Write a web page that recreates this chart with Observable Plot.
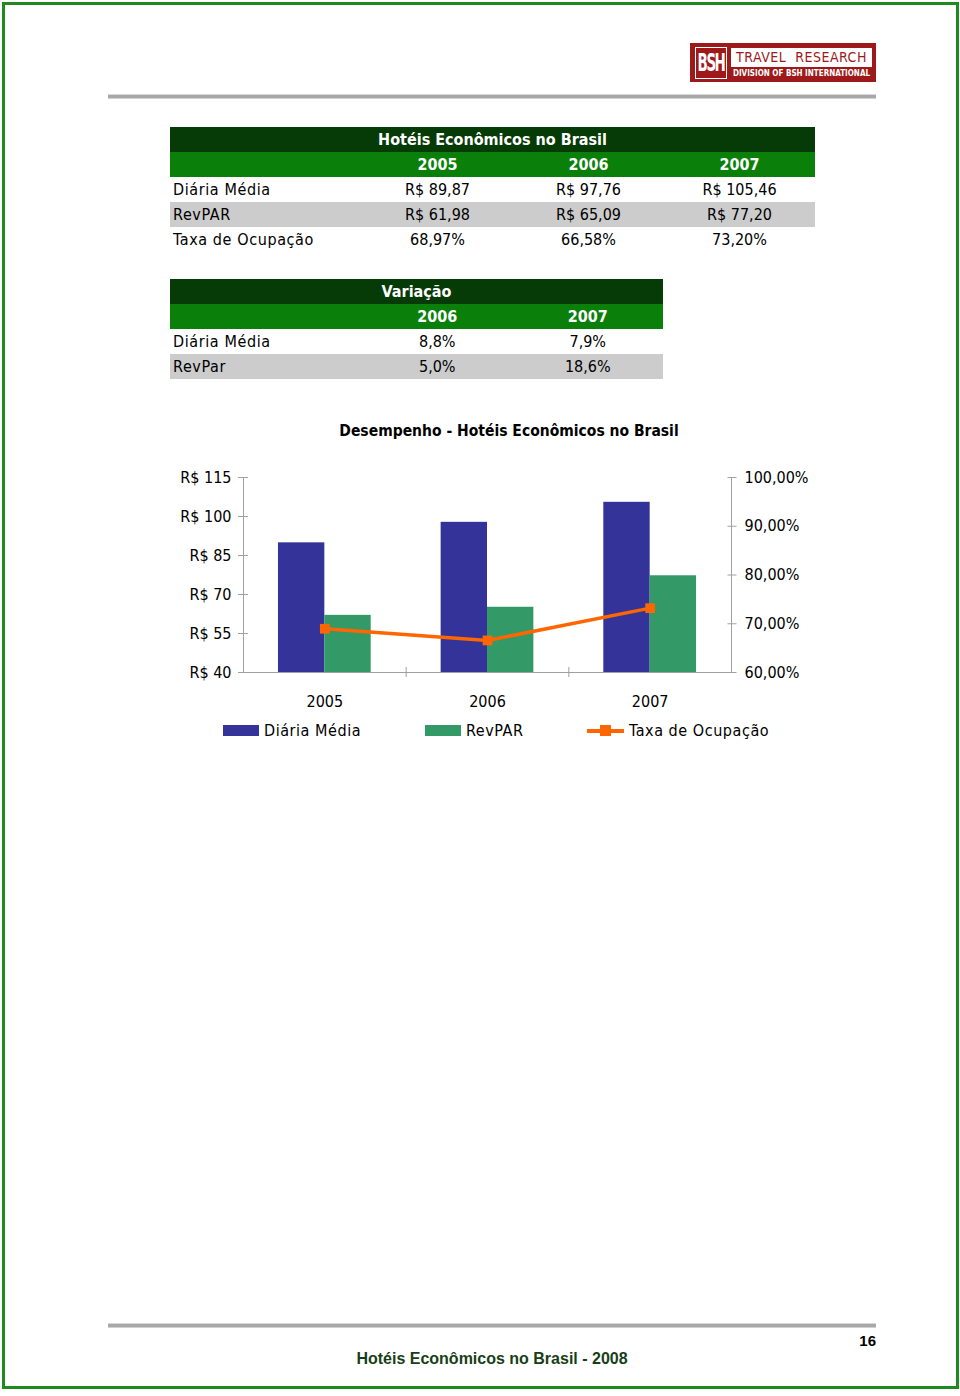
<!DOCTYPE html>
<html>
<head>
<meta charset="utf-8">
<script src="https://cdn.jsdelivr.net/npm/d3@7"></script>
<script src="https://cdn.jsdelivr.net/npm/@observablehq/plot@0.6"></script>
<style>
  html, body { margin: 0; padding: 0; background: #fff; }
  #page { position: relative; width: 960px; height: 1396px; overflow: hidden; font-family: "DejaVu Sans Condensed", "DejaVu Sans", sans-serif; color: #000; }
  .abs { position: absolute; }
  #frame { left: 2px; top: 2px; width: 951px; height: 1381px; border: 3px solid #1f8a1f; }
  .hline { height: 3px; background: #a8a8a8; box-shadow: 0 1px 0 #d0d0d0, 0 -1px 0 #d8d8d8; }
  table.t { position: absolute; border-collapse: collapse; font-size: 16px; }
  table.t td { height: 25px; padding: 0; line-height: 25px; white-space: nowrap; }
  table.t tr.h1 td { background: #063a06; color: #fff; font-weight: bold; text-align: center; }
  table.t tr.h2 td { background: #0a800a; color: #fff; font-weight: bold; text-align: center; }
  table.t tr.g td { background: #cccccc; }
  table.t td.lab { text-align: left; padding-left: 3px; letter-spacing: 0.6px; }
  table.t td.num { text-align: center; }
  #title { left: 0; width: 1018px; top: 422px; text-align: center; font-weight: bold; font-size: 15.5px; }
  #legend { top: 720px; left: 0; width: 960px; height: 22px; font-size: 16px; }
  .sw { position: absolute; top: 725px; height: 11px; }
  .lt { position: absolute; top: 719px; line-height: 22px; letter-spacing: 0.55px; }
  #footer { font-family: "Liberation Sans", Arial, sans-serif; font-weight: bold; }
</style>
</head>
<body>
<div id="page">
  <div id="frame" class="abs"></div>

  <!-- logo -->
  <div class="abs" style="left:690px;top:43px;width:186px;height:39px;background:#9e1a1a;"></div>
  <div class="abs" style="left:695px;top:47px;width:30px;height:30px;border:1px solid #fff;overflow:hidden;">
    <div style="color:#fff;font-family:'DejaVu Sans Condensed','DejaVu Sans',sans-serif;font-weight:bold;font-size:15px;line-height:30px;text-align:center;letter-spacing:-1.5px;transform:scaleY(1.6);">BSH</div>
  </div>
  <div class="abs" style="left:731px;top:48px;width:141px;height:19px;background:#fff;color:#9e1a1a;font-family:'DejaVu Sans Condensed','DejaVu Sans',sans-serif;font-size:14px;line-height:19px;text-align:center;letter-spacing:0.5px;">TRAVEL&nbsp; RESEARCH</div>
  <div class="abs" style="left:731px;top:68px;width:141px;height:12px;color:#fff;font-family:'DejaVu Sans Condensed','DejaVu Sans',sans-serif;font-weight:bold;font-size:8px;line-height:12px;text-align:center;">DIVISION OF BSH INTERNATIONAL</div>
  <div class="abs hline" style="left:108px;top:95px;width:768px;"></div>

  <div id="tables"></div>

  <div id="title" class="abs">Desempenho - Hotéis Econômicos no Brasil</div>
  <div id="chart" class="abs" style="left:160px;top:460px;"></div>
  <div id="legend" class="abs"></div>

  <div class="abs hline" style="left:108px;top:1324px;width:768px;"></div>
  <div id="footer">
    <div class="abs" style="left:820px;width:56px;top:1332px;text-align:right;font-size:15px;">16</div>
    <div class="abs" style="left:292px;width:400px;top:1350px;text-align:center;font-size:16px;color:#173f17;">Hotéis Econômicos no Brasil - 2008</div>
  </div>
</div>

<script>
// ---------- data ----------
const years = ["2005", "2006", "2007"];
const diariaMedia = [89.87, 97.76, 105.46];
const revPAR = [61.98, 65.09, 77.20];
const taxaOcupacao = [68.97, 66.58, 73.20];

const variacaoYears = ["2006", "2007"];
const variacaoDiaria = [8.8, 7.9];
const variacaoRevPar = [5.0, 18.6];

const leftTicks = [40, 55, 70, 85, 100, 115];
const rightTicks = [60, 70, 80, 90, 100];
const seriesNames = ["Diária Média", "RevPAR", "Taxa de Ocupação"];
const seriesColors = ["#333399", "#339966", "#FF6600"];

// ---------- helpers ----------
const br = (v, d) => v.toFixed(d).replace(".", ",");
const money = v => "R$ " + br(v, 2);
const pct = (v, d) => br(v, d) + "%";

// ---------- tables ----------
function buildTable(left, top, colW, title, cols, rows) {
  const t = document.createElement("table");
  t.className = "t";
  t.style.left = left + "px";
  t.style.top = top + "px";
  let html = `<colgroup><col style="width:192px">${cols.map(() => `<col style="width:${colW}px">`).join("")}</colgroup>`;
  html += `<tr class="h1"><td colspan="${cols.length + 1}">${title}</td></tr>`;
  html += `<tr class="h2"><td></td>${cols.map(c => `<td>${c}</td>`).join("")}</tr>`;
  rows.forEach((r, i) => {
    html += `<tr class="${i % 2 ? "g" : ""}"><td class="lab">${r.label}</td>${r.values.map(v => `<td class="num">${v}</td>`).join("")}</tr>`;
  });
  t.innerHTML = html;
  document.getElementById("tables").appendChild(t);
}

buildTable(170, 127, 151, "Hotéis Econômicos no Brasil", years, [
  {label: "Diária Média", values: diariaMedia.map(money)},
  {label: "RevPAR", values: revPAR.map(money)},
  {label: "Taxa de Ocupação", values: taxaOcupacao.map(v => pct(v, 2))}
]);
buildTable(170, 279, 150.5, "Variação", variacaoYears, [
  {label: "Diária Média", values: variacaoDiaria.map(v => pct(v, 1))},
  {label: "RevPar", values: variacaoRevPar.map(v => pct(v, 1))}
]);

// ---------- chart ----------
const yMin = leftTicks[0], yMax = leftTicks[leftTicks.length - 1];
const pMin = rightTicks[0], pMax = rightTicks[rightTicks.length - 1];
const toLeft = p => yMin + (p - pMin) * (yMax - yMin) / (pMax - pMin);
const fromLeft = y => pMin + (y - yMin) * (pMax - pMin) / (yMax - yMin);

const rows = years.map((year, i) => ({
  year, c: i + 0.5, diaria: diariaMedia[i], revpar: revPAR[i], occ: toLeft(taxaOcupacao[i])
}));
const BW = 0.285; // bar width, in category units
const axisColor = "#a0a0a0";

const chart = Plot.plot({
  width: 720,
  height: 262,
  marginLeft: 83,
  marginRight: 149,
  marginTop: 17,
  marginBottom: 50,
  style: {fontFamily: '"DejaVu Sans Condensed", "DejaVu Sans", sans-serif', fontSize: "16px", color: "#000", background: "transparent", overflow: "visible"},
  x: {domain: [0, years.length]},
  y: {domain: [yMin, yMax]},
  marks: [
    Plot.rectY(rows, {x1: d => d.c - BW, x2: d => d.c, y1: yMin, y2: "diaria", fill: seriesColors[0]}),
    Plot.rectY(rows, {x1: d => d.c, x2: d => d.c + BW, y1: yMin, y2: "revpar", fill: seriesColors[1]}),
    // axis lines
    Plot.ruleY([yMin], {stroke: axisColor}),
    Plot.ruleX([0, years.length], {stroke: axisColor}),
    // left axis
    Plot.axisY({ticks: leftTicks, tickSize: 10, dx: 5, fill: "none", stroke: axisColor}),
    Plot.axisY({ticks: leftTicks, tickSize: 0, tickPadding: 12, tickFormat: d => "R$ " + d, fill: "#000", label: null}),
    // right axis
    Plot.axisY({anchor: "right", ticks: rightTicks.map(toLeft), tickSize: 9, dx: -4.5, fill: "none", stroke: axisColor}),
    Plot.axisY({anchor: "right", ticks: rightTicks.map(toLeft), tickSize: 0, tickPadding: 13, tickFormat: d => pct(Math.round(fromLeft(d)), 2), fill: "#000", label: null}),
    // bottom axis
    Plot.axisX({ticks: d3.range(1, years.length), tickSize: 10, dy: -5, fill: "none", stroke: axisColor}),
    Plot.axisX({ticks: rows.map(d => d.c), tickSize: 0, tickPadding: 23, tickFormat: d => years[Math.floor(d)], fill: "#000", label: null}),
    // occupancy line
    Plot.line(rows, {x: "c", y: "occ", stroke: seriesColors[2], strokeWidth: 3.5}),
    Plot.dot(rows, {x: "c", y: "occ", symbol: "square", fill: seriesColors[2], r: 5.5})
  ]
});
document.getElementById("chart").appendChild(chart);

// ---------- legend ----------
const legend = document.getElementById("legend");
const legendPos = [223, 425, 587];
const textPos = [264, 466, 629];
seriesNames.forEach((name, i) => {
  if (i < 2) {
    const s = document.createElement("div");
    s.className = "sw";
    s.style.cssText = `left:${legendPos[i]}px;width:36px;background:${seriesColors[i]};top:5px;height:11px;`;
    legend.appendChild(s);
  } else {
    const l = document.createElement("div");
    l.style.cssText = `position:absolute;left:${legendPos[i]}px;top:9px;width:37px;height:4px;background:${seriesColors[i]};`;
    legend.appendChild(l);
    const m = document.createElement("div");
    m.style.cssText = `position:absolute;left:${legendPos[i] + 13}px;top:5px;width:11px;height:11px;background:${seriesColors[i]};`;
    legend.appendChild(m);
  }
  const t = document.createElement("div");
  t.className = "lt";
  t.style.cssText = `left:${textPos[i]}px;top:0px;`;
  t.textContent = name;
  legend.appendChild(t);
});
</script>
</body>
</html>
